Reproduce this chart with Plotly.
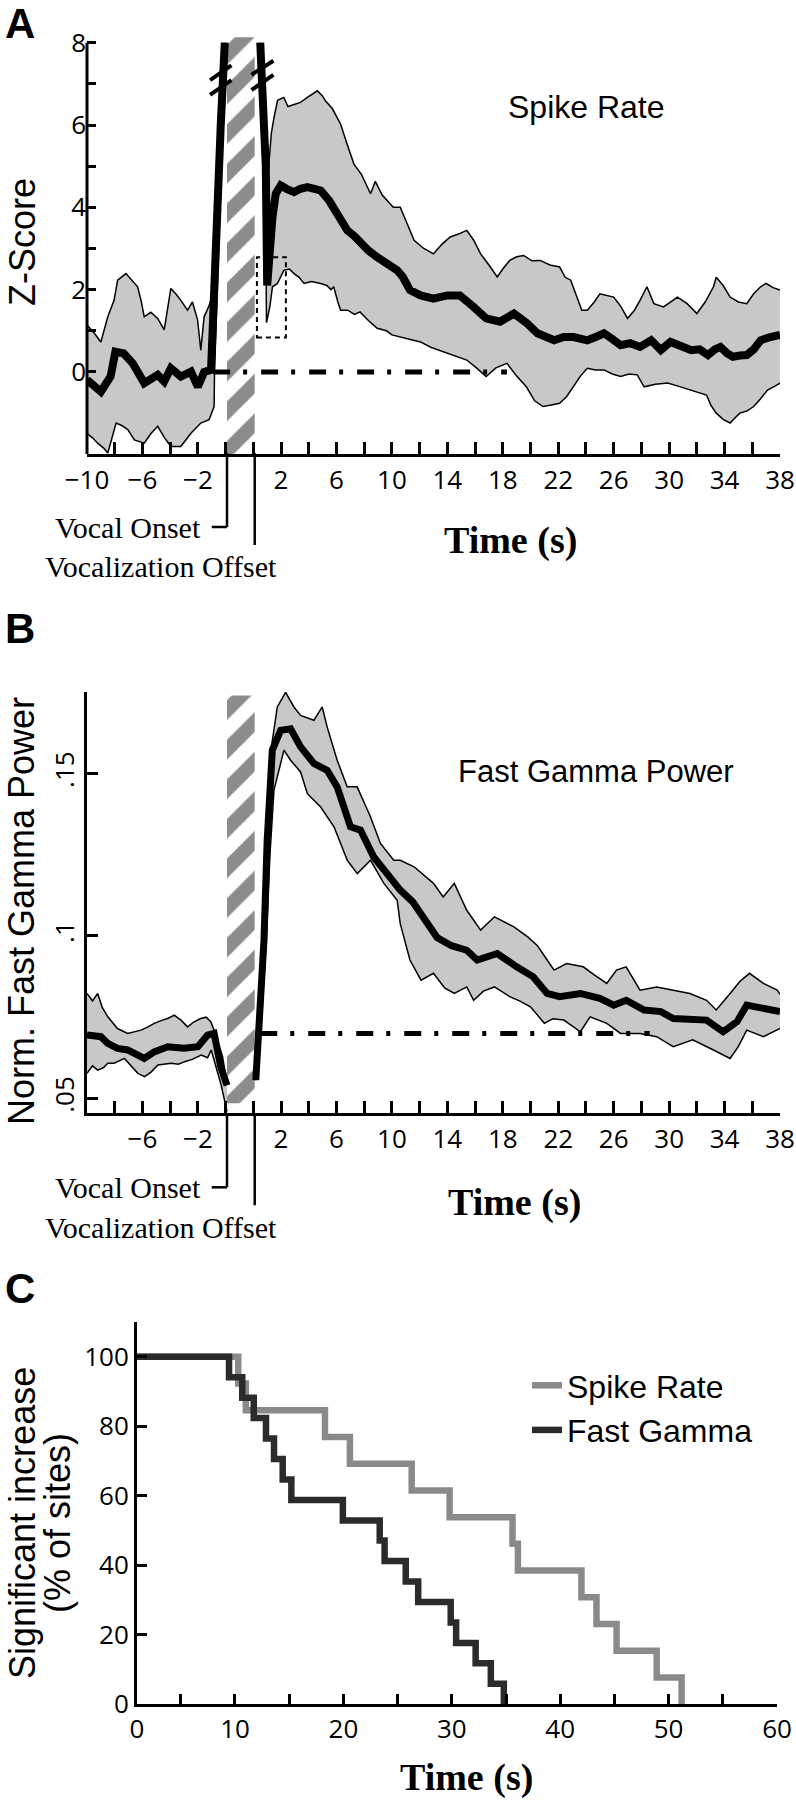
import plotly.graph_objects as go

W, H = 796, 1800
GAP = 2.0            # axis units taken by the vocalization window
VOC = (0.1, 2.1)     # hatched vocalization window on the broken time axis

SANS = "Liberation Sans, Arial, sans-serif"
SERIF = "Liberation Serif, Times New Roman, serif"
TICKF = "Open Sans, sans-serif"
BAND = "#c8c8c8"
HATCH = "#8c8c8c"

# ---------------- Panel A : spike rate (Z-score) ----------------
a_pre_t = [-10, -9.5, -9.0, -8.3, -7.95, -7.35, -6.7, -5.87, -5.3, -4.9, -4.43, -3.95, -3.23, -2.5,
           -2.0, -1.55, -1.05, -0.85, -0.6, -0.35, -0.06]
a_pre_mean = [-0.19, -0.35, -0.48, -0.11, 0.49, 0.45, 0.21, -0.27, -0.15, -0.07, -0.23, 0.09, -0.11, 0.01,
              -0.36, 0.0, 0.05, 2.0, 4.0, 6.0, 8.0]
a_pre_up_t = [-10, -9.47, -9.0, -8.5, -8.05, -7.79, -7.19, -6.35, -6.1, -5.87, -5.4, -4.9, -4.43, -3.95,
              -3.6, -3.23, -2.75, -2.39, -2.02, -1.79, -1.55, -1.2, -0.85, -0.1]
a_pre_up = [1.14, 0.94, 0.73, 1.34, 1.74, 2.23, 2.39, 2.07, 1.74, 1.34, 1.45, 1.30, 1.02, 2.03,
            1.9, 1.74, 1.50, 1.70, 1.26, 0.53, 1.34, 1.6, 2.0, 8.0]
a_pre_lo_t = [-10, -9.6, -9.23, -8.8, -8.5, -7.9, -7.5, -7.06, -6.58, -5.87, -5.4, -4.9, -4.4, -3.95,
              -3.23, -2.5, -1.79, -1.19, -0.83, -0.8, 0.0]
a_pre_lo = [-1.49, -1.6, -1.73, -1.85, -1.97, -1.24, -1.3, -1.40, -1.65, -1.73, -1.5, -1.32, -1.6, -1.81,
            -1.81, -1.49, -1.24, -1.16, -0.84, 0.0, 8.0]

a_post_t = [0.5, 0.75, 0.9, 1.0, 1.26, 1.38, 1.62, 1.98, 2.4, 2.94, 3.4, 3.9, 4.4, 4.86, 5.46, 6.1,
            6.78, 7.3, 7.74, 8.3, 8.94, 9.6, 10.38, 10.8, 11.3, 12.06, 13.0, 14.0, 14.9, 15.9, 16.8, 17.8,
            18.8, 19.75, 20.5, 21.7, 22.4, 23.1, 24.1, 24.7, 25.3, 25.9, 26.5, 27.2, 27.9, 28.7, 29.4, 30.1,
            30.8, 31.6, 32.2, 32.8, 33.3, 33.7, 34.2, 34.6, 35.1, 35.6, 36.1, 36.6, 37.3, 38.0]
a_post_mean = [8.0, 6.5, 5.0, 2.1, 3.36, 3.76, 4.33, 4.53, 4.45, 4.37, 4.45, 4.49, 4.45, 4.41, 4.17, 3.8,
               3.44, 3.3, 3.12, 2.95, 2.79, 2.65, 2.47, 2.3, 1.99, 1.86, 1.78, 1.86, 1.86, 1.58, 1.30, 1.22,
               1.42, 1.18, 0.94, 0.77, 0.85, 0.85, 0.77, 0.85, 0.94, 0.8, 0.65, 0.7, 0.61, 0.77, 0.53, 0.73,
               0.65, 0.53, 0.55, 0.41, 0.55, 0.61, 0.45, 0.37, 0.4, 0.41, 0.55, 0.77, 0.85, 0.90]
a_post_up_t = [0.45, 0.85, 1.1, 1.3, 1.49, 1.75, 2.2, 2.5, 2.94, 3.4, 3.9, 4.3, 4.62, 5.0, 5.2, 5.7,
               6.3, 6.8, 7.26, 7.8, 8.46, 8.8, 9.3, 10.1, 10.6, 11.1, 11.6, 12.3, 13.0, 13.6, 14.2, 14.8,
               15.4, 15.9, 16.4, 17.0, 17.6, 18.0, 18.5, 19.0, 19.5, 20.1, 20.7, 21.4, 22.1, 22.5, 22.9, 23.7,
               24.1, 24.6, 25.0, 26.0, 26.5, 27.0, 27.5, 27.9, 28.4, 28.9, 29.6, 30.6, 31.3, 32.0, 32.6, 33.2,
               33.4, 33.9, 34.4, 35.0, 35.6, 36.1, 36.6, 37.0, 37.5, 38.0]
a_post_up = [8.0, 5.0, 4.95, 5.8, 6.18, 6.6, 6.67, 6.45, 6.5, 6.55, 6.67, 6.75, 6.83, 6.7, 6.59, 6.4,
             6.02, 5.5, 5.05, 4.8, 4.33, 4.63, 4.3, 4.0, 4.0, 3.6, 3.2, 3.0, 2.87, 3.1, 3.28, 3.35,
             3.44, 3.2, 2.87, 2.6, 2.31, 2.5, 2.71, 2.8, 2.83, 2.7, 2.71, 2.6, 2.55, 2.3, 2.23, 1.5,
             1.5, 1.7, 1.9, 1.82, 1.6, 1.30, 1.5, 1.74, 2.07, 1.66, 1.58, 1.82, 1.66, 1.42, 1.7, 2.07,
             2.3, 2.1, 1.82, 1.7, 1.66, 1.9, 2.07, 2.15, 2.05, 1.99]
a_post_lo_t = [0.5, 0.85, 0.95, 1.2, 1.38, 1.74, 2.2, 2.6, 2.94, 3.3, 3.66, 4.2, 4.86, 5.3, 5.6, 5.8,
               6.1, 6.3, 6.8, 7.3, 7.7, 8.3, 8.94, 9.6, 10.0, 10.6, 11.3, 12.06, 12.8, 13.7, 14.5, 15.4,
               16.1, 16.8, 17.5, 18.3, 19.0, 19.7, 20.3, 20.9, 21.5, 22.1, 22.6, 23.1, 23.6, 24.1, 24.7, 25.3,
               25.9, 26.5, 27.1, 27.7, 28.2, 29.0, 29.9, 30.7, 31.5, 32.1, 32.7, 33.0, 33.4, 33.9, 34.4, 34.8,
               35.1, 35.6, 36.1, 36.6, 37.1, 37.6, 38.0]
a_post_lo = [8.0, 5.0, 1.2, 1.6, 2.07, 2.15, 2.47, 2.5, 2.39, 2.3, 2.15, 2.2, 2.15, 2.1, 2.0, 2.07,
             1.7, 1.50, 1.5, 1.4, 1.46, 1.25, 1.06, 1.0, 0.9, 0.85, 0.8, 0.73, 0.6, 0.49, 0.4, 0.29,
             0.1, -0.11, 0.1, 0.21, -0.1, -0.36, -0.7, -0.84, -0.8, -0.76, -0.6, -0.36, -0.1, 0.09, 0.05, 0.05,
             -0.05, -0.11, -0.05, -0.07, -0.36, -0.3, -0.27, -0.35, -0.44, -0.5, -0.56, -0.8, -1.0, -1.15, -1.24, -1.1,
             -1.0, -0.95, -0.84, -0.65, -0.44, -0.35, -0.27]
a_baseline = 0.0
a_base_span = (-0.9, 18.3)          # starts before onset, ends after offset (s)
a_zoom_box = (0.26, 2.35, 0.84, 2.79)  # post-offset t0, t1, z0, z1

# ---------------- Panel B : fast gamma power ----------------
b_pre_t = [-10, -9.0, -8.5, -7.8, -7.07, -6.6, -5.87, -5.15, -4.18, -3.0, -2.0, -1.3, -0.83, -0.35, 0.1]
b_pre_mean = [0.0695, 0.069, 0.0669, 0.0654, 0.0649, 0.0638, 0.0623, 0.0643, 0.0659, 0.0654, 0.0659,
              0.0695, 0.070, 0.0597, 0.054]
b_pre_up_t = [-10, -9.6, -9.23, -8.9, -8.5, -7.8, -7.07, -6.6, -6.1, -5.6, -5.15, -4.6, -4.18, -3.7,
              -3.2, -2.74, -2.3, -1.8, -1.4, -1.07, -0.83, -0.22, 0.1]
b_pre_up = [0.0823, 0.080, 0.0823, 0.078, 0.0751, 0.0715, 0.070, 0.0705, 0.071, 0.072, 0.0731, 0.074,
            0.0746, 0.0756, 0.074, 0.072, 0.0735, 0.0746, 0.075, 0.0736, 0.071, 0.0628, 0.0546]
b_pre_lo_t = [-10, -9.6, -9.23, -8.8, -8.5, -8.04, -7.3, -6.8, -6.33, -5.85, -5.4, -4.88, -4.4, -3.92,
              -3.4, -2.96, -2.4, -1.76, -1.3, -1.04, -0.35, 0.1]
b_pre_lo = [0.0577, 0.060, 0.0587, 0.0595, 0.0608, 0.0608, 0.0623, 0.060, 0.0577, 0.0567, 0.058, 0.0603,
            0.0605, 0.0608, 0.0605, 0.0613, 0.062, 0.0633, 0.0625, 0.0649, 0.0546, 0.046]

b_post_t = [0.18, 0.5, 0.77, 1.0, 1.37, 1.97, 2.69, 3.41, 4.37, 5.33, 6.05, 7.01, 7.73, 8.69, 10.13, 10.6,
            11.5, 12.3, 13.26, 14.3, 15.4, 16.15, 17.6, 19.0, 20.2, 21.2, 22.1, 23.6, 25.0, 26.0, 26.9, 28.2,
            29.4, 30.3, 31.5, 32.7, 33.9, 34.9, 35.6, 36.6, 38.0]
b_post_mean = [0.0556, 0.075, 0.0987, 0.1295, 0.1572, 0.1633, 0.1638, 0.1582, 0.1531, 0.151, 0.1459, 0.1336,
               0.1326, 0.1243, 0.1162, 0.1141, 0.1105, 0.1055, 0.0995, 0.097, 0.0956, 0.0926, 0.0946, 0.0905,
               0.0874, 0.0823, 0.0813, 0.0823, 0.0808, 0.0787, 0.0802, 0.0772, 0.0767, 0.0746, 0.0746, 0.0741,
               0.0705, 0.0736, 0.0787, 0.0777, 0.0767]
b_post_up_t = [0.15, 0.6, 1.0, 1.3, 1.73, 2.33, 2.93, 3.41, 4.37, 4.97, 5.33, 6.05, 6.77, 7.49, 8.45, 9.17,
               10.13, 10.6, 11.6, 13.0, 13.7, 14.5, 15.4, 16.4, 17.4, 18.8, 19.8, 20.5, 21.2, 21.7, 22.6, 23.8,
               24.6, 25.5, 26.2, 26.9, 27.9, 29.1, 30.3, 31.5, 32.7, 33.4, 34.4, 35.1, 35.8, 36.8, 37.8, 38.0]
b_post_up = [0.0556, 0.095, 0.1397, 0.158, 0.1705, 0.175, 0.1705, 0.1679, 0.1664, 0.1705, 0.1643, 0.1541,
             0.1459, 0.1459, 0.1367, 0.1285, 0.1233, 0.1233, 0.1213, 0.1162, 0.112, 0.1162, 0.1079, 0.1018,
             0.1059, 0.1028, 0.0997, 0.097, 0.0926, 0.0895, 0.0915, 0.0905, 0.088, 0.0854, 0.0895, 0.0905,
             0.0833, 0.0843, 0.0833, 0.0823, 0.0802, 0.0772, 0.0823, 0.086, 0.0885, 0.0854, 0.0833, 0.082]
b_post_lo_t = [0.2, 0.6, 0.95, 1.2, 1.49, 2.21, 2.69, 3.41, 3.9, 4.86, 5.82, 6.78, 7.5, 8.46, 9.42, 10.38,
               10.6, 11.3, 12.1, 13.0, 13.8, 14.5, 15.4, 15.9, 16.6, 17.4, 18.5, 19.2, 20.0, 21.0, 21.6, 22.4,
               23.6, 24.3, 25.5, 26.5, 27.9, 29.1, 30.3, 31.7, 33.2, 34.4, 35.0, 35.6, 36.8, 37.8, 38.0]
b_post_lo = [0.0556, 0.075, 0.100, 0.125, 0.1449, 0.1572, 0.1541, 0.1505, 0.1438, 0.1397, 0.1336, 0.1233,
             0.1192, 0.1233, 0.1162, 0.111, 0.1038, 0.0926, 0.0864, 0.0885, 0.084, 0.0823, 0.0843, 0.0802,
             0.083, 0.0843, 0.0813, 0.080, 0.0782, 0.0731, 0.0745, 0.0741, 0.0705, 0.0751, 0.0731, 0.070,
             0.070, 0.069, 0.0659, 0.068, 0.0649, 0.0623, 0.066, 0.071, 0.069, 0.071, 0.0715]
b_baseline = 0.070
b_base_span = (0.5, 28.6)   # post-offset seconds

# ---------------- Panel C : time to return to baseline ----------------
spike_t = [0, 10.3, 11.0, 18.3, 20.6, 26.3, 29.8, 35.6, 36.1, 41.96, 43.35, 45.2, 48.9, 51.2]
spike_pct = [100, 92.3, 84.6, 76.9, 69.2, 61.5, 53.8, 46.2, 38.5, 30.8, 23.1, 15.4, 7.7, 0]
gamma_t = [0, 9.45, 10.67, 11.73, 12.86, 13.6, 14.4, 15.2, 19.95, 23.35, 23.8, 25.75, 26.9, 29.9, 30.4,
           32.2, 33.6, 34.8]
gamma_pct = [100, 94.1, 88.2, 82.4, 76.5, 70.6, 64.7, 58.8, 52.9, 47.1, 41.2, 35.3, 29.4, 23.5, 17.6,
             11.8, 5.9, 0]

# tick labels
pre_labels = [-10, -6, -2]
post_labels = [2, 6, 10, 14, 18, 22, 26, 30, 34, 38]
c_x_labels = [0, 10, 20, 30, 40, 50, 60]
c_y_labels = [0, 20, 40, 60, 80, 100]


def post(ts):
    return [t + GAP for t in ts]


def px(v):
    return v / W


def py(v):
    return 1 - v / H


def lab(v):
    return ("\u2212" + str(-v)) if v < 0 else str(v)


X0, X1 = 87, 780  # pixel extent of panels A/B x domain

fig = go.Figure()


def add_band(xu, yu, xl, yl, xa, ya):
    fig.add_trace(go.Scatter(x=xu + xl[::-1], y=yu + yl[::-1], fill="toself", fillcolor=BAND,
                             mode="lines", line=dict(width=0), hoverinfo="skip", showlegend=False,
                             xaxis=xa, yaxis=ya))


def add_edge(x, y, xa, ya):
    fig.add_trace(go.Scatter(x=x, y=y, mode="lines", line=dict(color="black", width=1.5),
                             showlegend=False, hoverinfo="skip", xaxis=xa, yaxis=ya))


def add_hatch(y0, y1, xa, ya):
    fig.add_trace(go.Scatter(x=[VOC[0], VOC[1], VOC[1], VOC[0], VOC[0]], y=[y0, y0, y1, y1, y0],
                             fill="toself", fillcolor="white",
                             fillpattern=dict(shape="/", fgcolor=HATCH, fgopacity=1, bgcolor="white",
                                              size=28, solidity=0.5),
                             mode="lines", line=dict(width=0), hoverinfo="skip", showlegend=False,
                             xaxis=xa, yaxis=ya))


DASHDOT = "17px,13px,4px,14px"

# ---- Panel A traces ----
add_hatch(-2, 8.13, "x", "y")
add_band(a_pre_up_t, a_pre_up, a_pre_lo_t, a_pre_lo, "x", "y")
add_band(post(a_post_up_t), a_post_up, post(a_post_lo_t), a_post_lo, "x", "y")
add_edge(a_pre_up_t, a_pre_up, "x", "y")
add_edge(a_pre_lo_t, a_pre_lo, "x", "y")
add_edge(post(a_post_up_t), a_post_up, "x", "y")
add_edge(post(a_post_lo_t), a_post_lo, "x", "y")
fig.add_trace(go.Scatter(x=[a_base_span[0], a_base_span[1] + GAP], y=[a_baseline, a_baseline], mode="lines",
                         line=dict(color="black", width=5, dash=DASHDOT), showlegend=False, xaxis="x", yaxis="y"))
fig.add_trace(go.Scatter(x=a_pre_t, y=a_pre_mean, mode="lines", line=dict(color="black", width=8),
                         showlegend=False, xaxis="x", yaxis="y"))
fig.add_trace(go.Scatter(x=post(a_post_t), y=a_post_mean, mode="lines", line=dict(color="black", width=8),
                         showlegend=False, xaxis="x", yaxis="y"))

# ---- Panel B traces ----
add_hatch(0.0485, 0.174, "x2", "y2")
add_band(b_pre_up_t, b_pre_up, b_pre_lo_t, b_pre_lo, "x2", "y2")
add_band(post(b_post_up_t), b_post_up, post(b_post_lo_t), b_post_lo, "x2", "y2")
add_edge(b_pre_up_t, b_pre_up, "x2", "y2")
add_edge(b_pre_lo_t, b_pre_lo, "x2", "y2")
add_edge(post(b_post_up_t), b_post_up, "x2", "y2")
add_edge(post(b_post_lo_t), b_post_lo, "x2", "y2")
fig.add_trace(go.Scatter(x=post(list(b_base_span)), y=[b_baseline, b_baseline], mode="lines",
                         line=dict(color="black", width=5, dash=DASHDOT), showlegend=False, xaxis="x2", yaxis="y2"))
fig.add_trace(go.Scatter(x=b_pre_t, y=b_pre_mean, mode="lines", line=dict(color="black", width=7),
                         showlegend=False, xaxis="x2", yaxis="y2"))
fig.add_trace(go.Scatter(x=post(b_post_t), y=b_post_mean, mode="lines", line=dict(color="black", width=7),
                         showlegend=False, xaxis="x2", yaxis="y2"))

# ---- Panel C traces ----
fig.add_trace(go.Scatter(x=spike_t, y=spike_pct, mode="lines", line=dict(color="#8a8a8a", width=6.5, shape="hv"),
                         name="Spike Rate", xaxis="x3", yaxis="y3"))
fig.add_trace(go.Scatter(x=gamma_t, y=gamma_pct, mode="lines", line=dict(color="#2b2b2b", width=6.5, shape="hv"),
                         name="Fast Gamma", xaxis="x3", yaxis="y3"))

# ---- axes ----
ab_tickvals = list(range(-10, 41, 2))
ab_ticktext = []
for v in ab_tickvals:
    if v <= 0 and v in pre_labels:
        ab_ticktext.append(lab(v))
    elif v > 2 and (v - GAP) in post_labels:
        ab_ticktext.append(lab(int(v - GAP)))
    else:
        ab_ticktext.append("")
b_ticktext = [t if t != lab(-10) else "" for t in ab_ticktext]

tickfont = dict(family=TICKF, size=26, color="black")
common_x = dict(range=[-10, 40], domain=[X0 / W, X1 / W], showgrid=False, zeroline=False, showline=True,
                linecolor="black", linewidth=3, ticks="inside", ticklen=12, tickwidth=2.5, tickcolor="black",
                tickmode="array", tickvals=ab_tickvals, tickfont=tickfont, ticklabeloverflow="allow")

a_ybot, a_ytop = 454.3, 36.5
b_ybot, b_ytop = 1113.3, 691.7
c_ybot, c_ytop = 1704.2, 1322.0

fig.update_layout(
    width=W, height=H, margin=dict(l=0, r=0, t=0, b=0, autoexpand=False),
    paper_bgcolor="white", plot_bgcolor="white",
    xaxis=dict(common_x, anchor="y", ticktext=ab_ticktext),
    yaxis=dict(range=[-2, 8.15], domain=[py(a_ybot), py(a_ytop)], anchor="x", showgrid=False, zeroline=False,
               showline=False, ticks="inside", ticklen=9, tickwidth=2.5, tickcolor="black", tickmode="array",
               tickvals=list(range(0, 9)), ticktext=[str(v) if v % 2 == 0 else "" for v in range(0, 9)],
               tickfont=tickfont),
    xaxis2=dict(common_x, anchor="y2", ticktext=b_ticktext),
    yaxis2=dict(range=[0.0454, 0.1752], domain=[py(b_ybot), py(b_ytop)], anchor="x2", showgrid=False,
                zeroline=False, showline=True, linecolor="black", linewidth=3, ticks="inside", ticklen=11,
                tickwidth=2.5, tickcolor="black", tickmode="array", tickvals=[0.05, 0.1, 0.15],
                ticktext=[".05", ".1", ".15"], tickangle=-90, tickfont=tickfont),
    xaxis3=dict(range=[0.96, 60], domain=[137 / W, 777 / W], anchor="y3", showgrid=False, zeroline=False,
                showline=True, linecolor="black", linewidth=3, ticks="inside", ticklen=10, tickwidth=2.5,
                tickcolor="black", tickmode="array", ticklabeloverflow="allow",
                tickvals=[0.96] + list(range(5, 61, 5)),
                ticktext=[str(c_x_labels[0])] + [str(v) if v in c_x_labels else "" for v in range(5, 61, 5)],
                tickfont=tickfont),
    yaxis3=dict(range=[0, 110], domain=[py(c_ybot), py(c_ytop)], anchor="x3", showgrid=False, zeroline=False,
                showline=True, linecolor="black", linewidth=3, ticks="inside", ticklen=10, tickwidth=2.5,
                tickcolor="black", tickmode="array", tickvals=c_y_labels, ticktext=[str(v) for v in c_y_labels],
                tickfont=tickfont),
    legend=dict(x=px(527), y=py(1358), xanchor="left", yanchor="top", bgcolor="rgba(0,0,0,0)",
                font=dict(family=SANS, size=32, color="black"), tracegroupgap=0, itemwidth=30),
    showlegend=True,
)

shapes = []
# y-axis line of panel A (only up to 8)
shapes.append(dict(type="line", xref="paper", yref="y", x0=px(X0), x1=px(X0), y0=-2, y1=8,
                   line=dict(color="black", width=3)))
# axis break marks on the truncated traces
for (u0, z0, u1, z1) in [(-1.12, 7.09, 0.42, 7.45), (-1.12, 6.73, 0.42, 7.09),
                         (1.87, 6.85, 3.45, 7.22), (1.87, 7.22, 3.45, 7.56)]:
    shapes.append(dict(type="line", xref="x", yref="y", x0=u0, x1=u1, y0=z0, y1=z1,
                       line=dict(color="black", width=4)))
# dashed zoom box
shapes.append(dict(type="rect", xref="x", yref="y", x0=a_zoom_box[0] + GAP, x1=a_zoom_box[1] + GAP,
                   y0=a_zoom_box[2], y1=a_zoom_box[3], line=dict(color="black", width=2, dash="5px,4px")))
# vocal onset / offset markers
for xa, axis_px in (("x", 453), ("x2", 1113.3)):
    shapes.append(dict(type="line", xref=xa, yref="paper", x0=VOC[0], x1=VOC[0], y0=py(axis_px),
                       y1=py(axis_px + 74), line=dict(color="black", width=2.5)))
    shapes.append(dict(type="line", xref=xa, yref="paper", x0=VOC[0] - 1.1, x1=VOC[0], y0=py(axis_px + 74),
                       y1=py(axis_px + 74), line=dict(color="black", width=2.5)))
    shapes.append(dict(type="line", xref=xa, yref="paper", x0=VOC[1], x1=VOC[1], y0=py(axis_px),
                       y1=py(axis_px + 92), line=dict(color="black", width=2.5)))

ann = []


def text(t, x, y, size, family=SANS, bold=False, angle=0, xanchor="center", yanchor="middle"):
    ann.append(dict(text=("<b>%s</b>" % t) if bold else t, x=px(x), y=py(y), xref="paper", yref="paper",
                    showarrow=False, textangle=angle, xanchor=xanchor, yanchor=yanchor,
                    font=dict(family=family, size=size, color="black")))


text("A", 20, 23, 42, bold=True)
text("B", 20, 628, 42, bold=True)
text("C", 20, 1288, 42, bold=True)
text("Z-Score", 22, 242, 36, angle=-90)
text("Norm. Fast Gamma Power", 22, 911, 36, angle=-90)
text("Significant increase", 22, 1523, 36, angle=-90)
text("(% of sites)", 57, 1523, 36, angle=-90)
text("Spike Rate", 586, 107, 32)
text("Fast Gamma Power", 596, 771, 31)
text("Time (s)", 510, 540, 38, family=SERIF, bold=True)
text("Time (s)", 514, 1202, 38, family=SERIF, bold=True)
text("Time (s)", 466, 1777, 38, family=SERIF, bold=True)
for axis_px in (453, 1113.3):
    text("Vocal Onset", 203, axis_px + 74, 30, family=SERIF, xanchor="right")
    text("Vocalization Offset", 43, axis_px + 114, 30, family=SERIF, xanchor="left")

fig.update_layout(shapes=shapes, annotations=ann)
fig.write_html("out.html", config={"displayModeBar": False},
               post_script="document.body.style.margin='0';document.body.style.padding='0';")
